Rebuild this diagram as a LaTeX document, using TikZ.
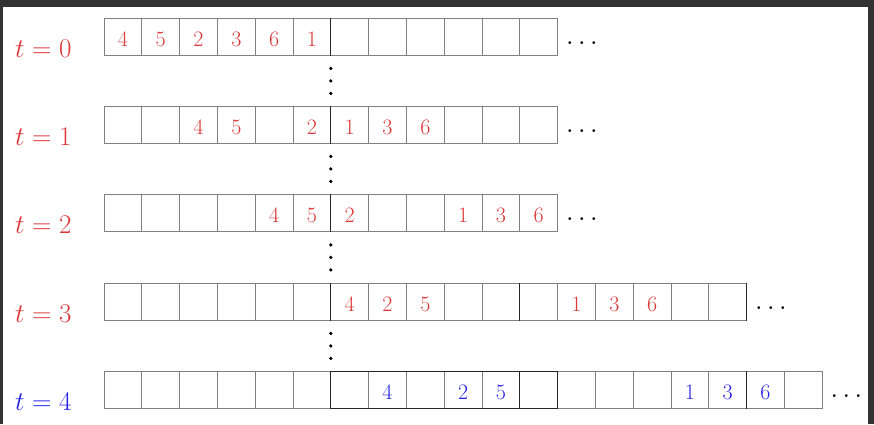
\RequirePackage{fix-cm}
\documentclass[tikz,border=0pt]{standalone}
\usetikzlibrary{calc}
\definecolor{cred}{RGB}{218,55,55}
\definecolor{cblue}{RGB}{35,35,228}
\definecolor{frame}{RGB}{51,51,51}
\tikzset{
  cell/.style={draw=black!50, line width=1pt, minimum width=37.8pt, minimum height=37.8pt,
    inner sep=0pt, outer sep=0pt, text height=18.8pt, text depth=0pt,
    font=\fontsize{22}{26}\selectfont},
  darkline/.style={draw=black!85, line width=1pt},
  tlabel/.style={anchor=base west, inner sep=0pt, font=\fontsize{27}{31}\selectfont},
  hdots/.style={anchor=base west, inner sep=0pt, font=\fontsize{34}{38}\selectfont},
  vdot/.style={fill=black, radius=1.8pt},
}
\newcommand{\myhdots}{\hbox{.\kern3.55pt.\kern3.55pt.}}
\begin{document}
\begin{tikzpicture}[x=1pt,y=-1pt]
\useasboundingbox (0,0) rectangle (874,424);
\fill[frame] (0,0) rectangle (874,424);
\fill[white] (3,7) rectangle (868,424);
% row 0
\foreach [count=\i] \d in {4,5,2,3,6,1,{},{},{},{},{},{}}
  \node[cell, text=cred] (r0-\i) at ({104+(\i-0.5)*37.8},{18+18.9}) {\d};
% row 1
\foreach [count=\i] \d in {{},{},4,5,{},2,1,3,6,{},{},{}}
  \node[cell, text=cred] (r1-\i) at ({104+(\i-0.5)*37.8},{106+18.9}) {\d};
% row 2
\foreach [count=\i] \d in {{},{},{},{},4,5,2,{},{},1,3,6}
  \node[cell, text=cred] (r2-\i) at ({104+(\i-0.5)*37.8},{194+18.9}) {\d};
% row 3
\foreach [count=\i] \d in {{},{},{},{},{},{},4,2,5,{},{},{},1,3,6,{},{}}
  \node[cell, text=cred] (r3-\i) at ({104+(\i-0.5)*37.8},{283+18.9}) {\d};
% row 4
\foreach [count=\i] \d in {{},{},{},{},{},{},{},4,{},2,5,{},{},{},{},1,3,6,{}}
  \node[cell, text=cblue] (r4-\i) at ({104+(\i-0.5)*37.8},{371+18.9}) {\d};
% darker lines
\foreach \r in {0,1,2,3}
  \draw[darkline] (r\r-6.north east) -- (r\r-6.south east);
\draw[darkline] (r3-11.north east) -- (r3-11.south east);
\draw[darkline] (r3-17.north east) -- (r3-17.south east);
\draw[darkline] (r4-7.north west) rectangle (r4-12.south east);
\draw[darkline] (r4-11.north east) -- (r4-11.south east);
\draw[darkline] (r4-17.north east) -- (r4-17.south east);
% labels
\node[tlabel, text=cred] (l0) at (15,57) {$t=0$};
\node[tlabel, text=cred] (l1) at (15,145) {$t=1$};
\node[tlabel, text=cred] (l2) at (15,233) {$t=2$};
\node[tlabel, text=cred] (l3) at (15,322) {$t=3$};
\node[tlabel, text=cblue] (l4) at (15,410) {$t=4$};
% horizontal dots
\node[hdots] (h0) at ([xshift=7.7pt,yshift=10.9pt]r0-12.south east) {\myhdots};
\node[hdots] (h1) at ([xshift=7.7pt,yshift=10.9pt]r1-12.south east) {\myhdots};
\node[hdots] (h2) at ([xshift=7.7pt,yshift=10.9pt]r2-12.south east) {\myhdots};
\node[hdots] (h3) at ([xshift=7.7pt,yshift=10.9pt]r3-17.south east) {\myhdots};
\node[hdots] (h4) at ([xshift=7.7pt,yshift=10.9pt]r4-19.south east) {\myhdots};
% vertical dots
\foreach \a/\b in {0/1,1/2,2/3,3/4}{
  \coordinate (v\a) at ($(r\a-6.south east)!0.5!(r\b-6.north east)$);
  \fill[vdot] ([yshift=12.5pt]v\a) circle;
  \fill[vdot] (v\a) circle;
  \fill[vdot] ([yshift=-12.5pt]v\a) circle;
}
\end{tikzpicture}
\end{document}
